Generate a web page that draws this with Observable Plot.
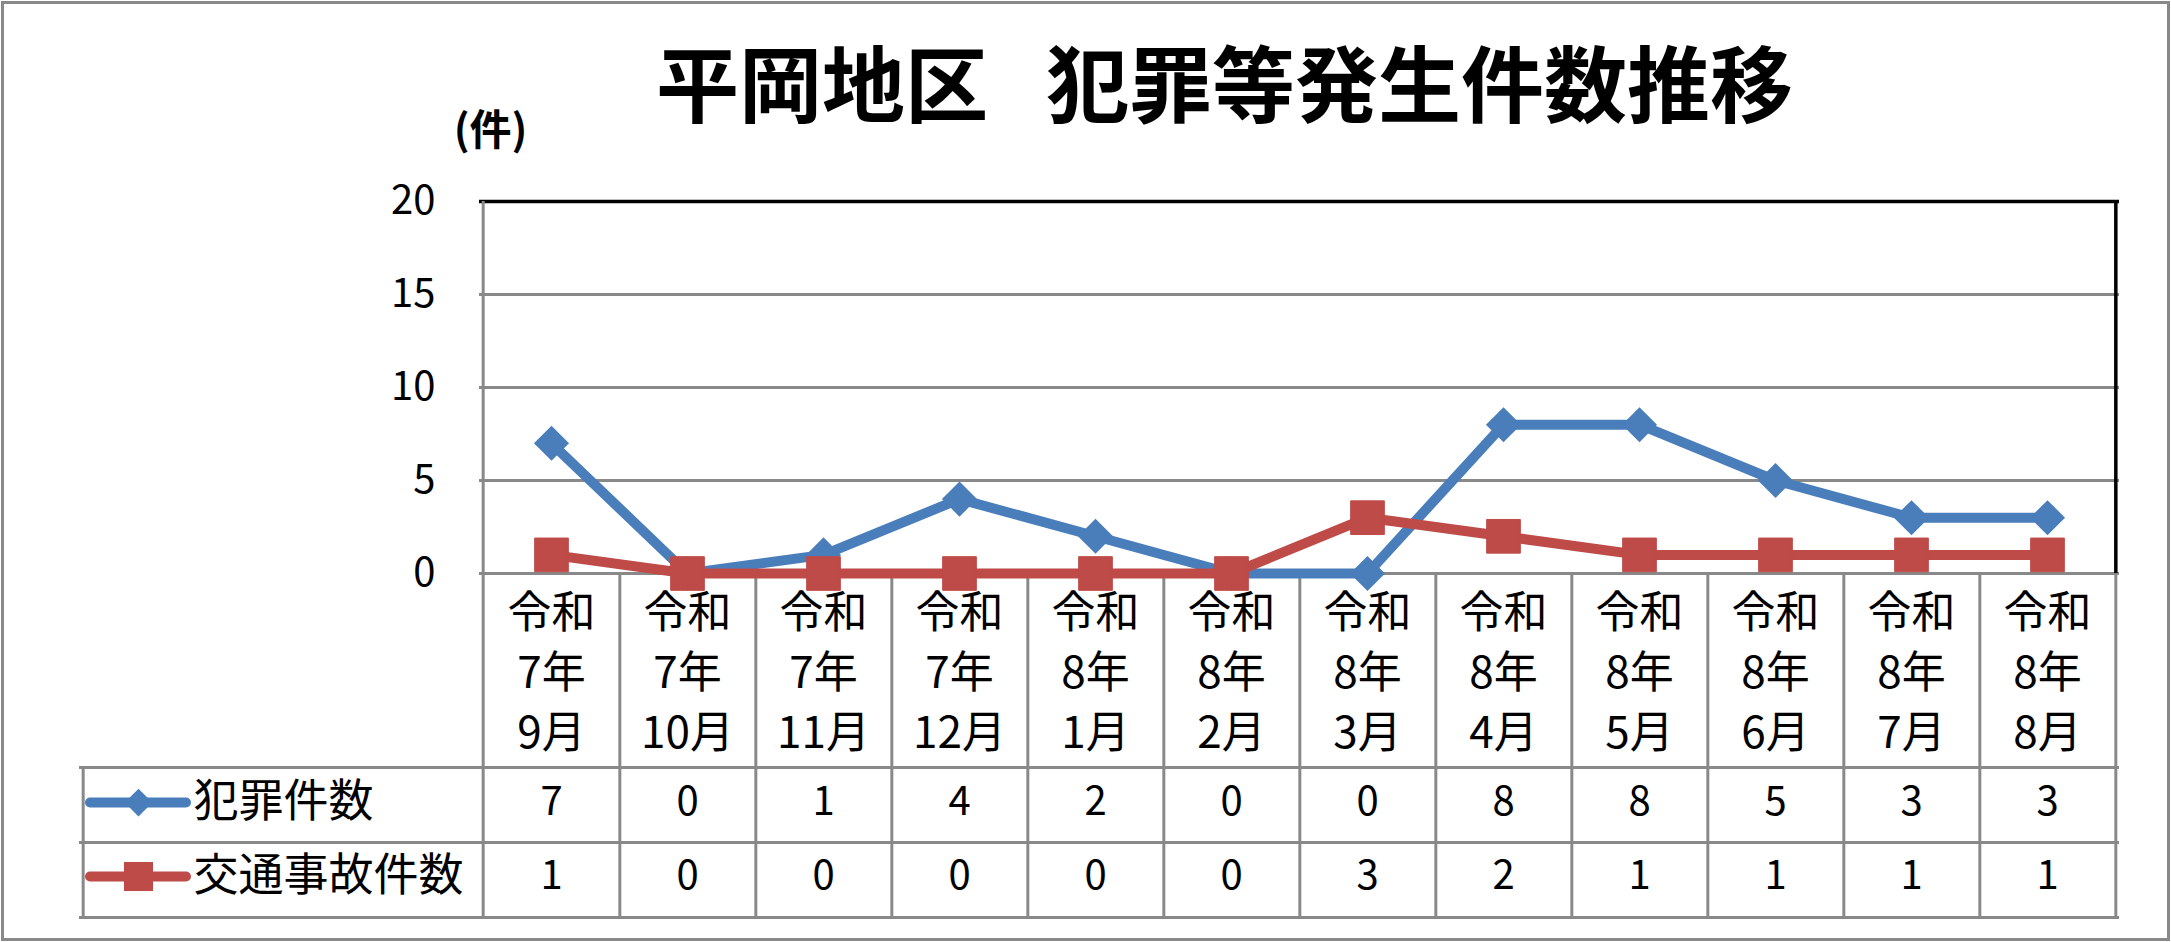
<!DOCTYPE html>
<html>
<head>
<meta charset="utf-8">
<script src="https://cdn.jsdelivr.net/npm/d3@7"></script>
<script src="https://cdn.jsdelivr.net/npm/@observablehq/plot@0.6"></script>
<style>
  html, body { margin: 0; padding: 0; background: #fff; overflow: hidden; }
</style>
</head>
<body>
<div id="chart"></div>
<script>
// ---- data ----
const title = "平岡地区\u2002\u2009犯罪等発生件数推移";
const unitLabel = "(件)";
const years = ["7", "7", "7", "7", "8", "8", "8", "8", "8", "8", "8", "8"];
const months = ["9", "10", "11", "12", "1", "2", "3", "4", "5", "6", "7", "8"];
const categories = years.map((y, i) => `令和\n${y}年\n${months[i]}月`);
const seriesNames = ["犯罪件数", "交通事故件数"];
const crime = [7, 0, 1, 4, 2, 0, 0, 8, 8, 5, 3, 3];
const traffic = [1, 0, 0, 0, 0, 0, 3, 2, 1, 1, 1, 1];
const yTicks = [0, 5, 10, 15, 20];

// ---- layout / style ----
const W = 2171, H = 942;
const mL = 479, mR = 52, mT = 201, mB = 369;
const step = (W - mL - mR) / categories.length;
const blue = "#4a7ebb", red = "#be4b48", grid = "#898989";
const font = "'Noto Sans CJK JP', 'Noto Sans', sans-serif";
const row1 = 229, row2 = 303;          // row centers below the zero line
const tableLines = [194, 269, 344];    // horizontal table lines below zero line
const legendLeft = 400;                // legend column width

const crimeData = categories.map((c, i) => ({c, v: crime[i]}));
const trafficData = categories.map((c, i) => ({c, v: traffic[i]}));

const chart = Plot.plot({
  width: W, height: H,
  marginLeft: mL, marginRight: mR, marginTop: mT, marginBottom: mB,
  style: {fontFamily: font, fontSize: "40px", background: "#fff", overflow: "visible", color: "#000"},
  x: {type: "point", domain: categories, padding: 0.5, axis: null},
  y: {domain: [0, 20], label: null},
  marks: [
    // outer border
    Plot.frame({stroke: grid, strokeWidth: 3, insetLeft: -(mL - 2), insetTop: -(mT - 2), insetRight: -(mR - 3), insetBottom: -(mB - 3)}),
    // gridlines
    Plot.ruleY([5, 10, 15, 0], {stroke: grid, strokeWidth: 3}),
    Plot.ruleY([20], {stroke: "#000", strokeWidth: 3.5}),
    Plot.ruleX([categories[categories.length - 1]], {x: d => d, dx: step / 2, stroke: "#000", strokeWidth: 3.5}),
    // table lines
    ...tableLines.map(dy => Plot.ruleY([0], {dy, stroke: grid, strokeWidth: 3, insetLeft: -legendLeft})),
    Plot.ruleX([categories[0]], {x: d => d, dx: -step / 2, stroke: grid, strokeWidth: 3, insetBottom: -tableLines[2]}),
    Plot.ruleX(categories, {x: d => d, dx: step / 2, stroke: grid, strokeWidth: 3, insetTop: H - mT - mB, insetBottom: -tableLines[2]}),
    Plot.ruleX([categories[0]], {x: d => d, dx: -step / 2 - legendLeft, stroke: grid, strokeWidth: 3, insetTop: H - mT - mB + tableLines[0], insetBottom: -tableLines[2]}),
    // y axis
    Plot.axisY({ticks: yTicks, tickSize: 0, tickPadding: 44, fontSize: 40, label: null}),
    // title and unit
    Plot.text([title], {frameAnchor: "top", dx: -75, dy: -112, fontSize: 83, fontWeight: "bold", lineAnchor: "middle"}),
    Plot.text([unitLabel], {frameAnchor: "top-left", textAnchor: "middle", dx: 11, dy: -70, fontSize: 42, fontWeight: "bold", lineAnchor: "middle"}),
    // category labels
    Plot.text(categories, {x: d => d, frameAnchor: "bottom", dy: 95, fontSize: 44, lineHeight: 60 / 44, lineAnchor: "middle"}),
    // series
    Plot.line(crimeData, {x: "c", y: "v", stroke: blue, strokeWidth: 10}),
    Plot.dot(crimeData, {x: "c", y: "v", symbol: "diamond2", r: 15.8, fill: blue}),
    Plot.line(trafficData, {x: "c", y: "v", stroke: red, strokeWidth: 10}),
    Plot.dot(trafficData, {x: "c", y: "v", symbol: "square", r: 19, fill: red, stroke: red, strokeWidth: 1, strokeLinejoin: "round"}),
    // table values
    Plot.text(crimeData, {x: "c", text: "v", frameAnchor: "bottom", dy: row1, fontSize: 40, lineAnchor: "middle"}),
    Plot.text(trafficData, {x: "c", text: "v", frameAnchor: "bottom", dy: row2, fontSize: 40, lineAnchor: "middle"}),
    // legend keys
    Plot.ruleY([0], {dy: row1, stroke: blue, strokeWidth: 10, strokeLinecap: "round", insetLeft: -389, insetRight: W - mR - mL + 293}),
    Plot.dot([0], {frameAnchor: "bottom-left", dx: -341, dy: row1, symbol: "diamond2", r: 12.5, fill: blue}),
    Plot.text([seriesNames[0]], {frameAnchor: "bottom-left", dx: -286, dy: row1, textAnchor: "start", fontSize: 45, lineAnchor: "middle"}),
    Plot.ruleY([0], {dy: row2, stroke: red, strokeWidth: 10, strokeLinecap: "round", insetLeft: -389, insetRight: W - mR - mL + 293}),
    Plot.dot([0], {frameAnchor: "bottom-left", dx: -341, dy: row2, symbol: "square", r: 16.4, fill: red}),
    Plot.text([seriesNames[1]], {frameAnchor: "bottom-left", dx: -286, dy: row2, textAnchor: "start", fontSize: 45, lineAnchor: "middle"})
  ]
});
document.getElementById("chart").append(chart);
</script>
</body>
</html>
